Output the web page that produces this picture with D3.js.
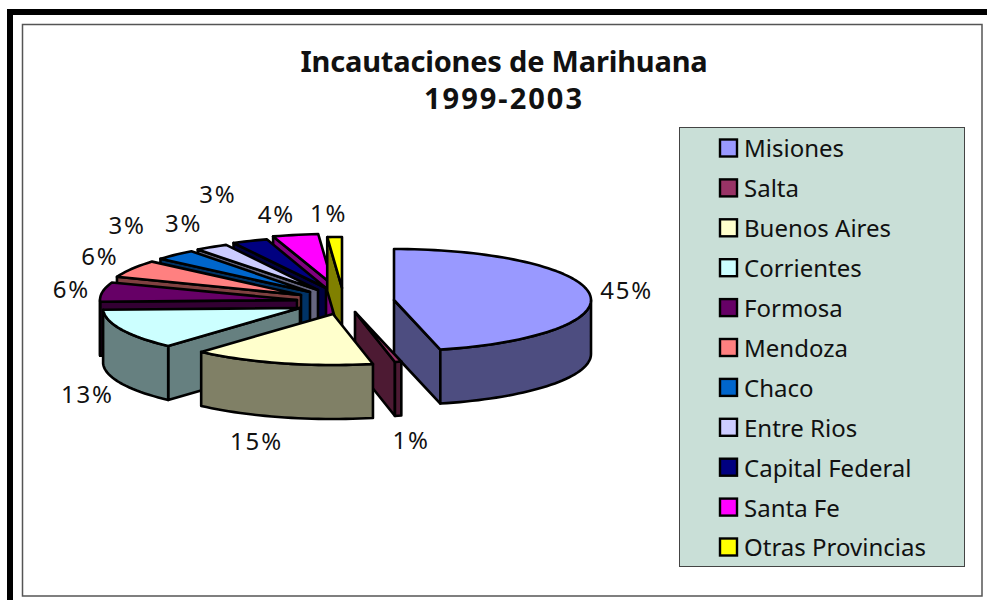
<!DOCTYPE html>
<html><head><meta charset="utf-8">
<script src="https://cdn.jsdelivr.net/npm/d3@7"></script>
<style>html,body{margin:0;padding:0;background:#fff}svg{display:block}text{font-family:"Noto Sans",Tahoma,sans-serif;fill:#111}</style>
</head><body><svg id="c" width="987" height="600"></svg>
<script>
// ---- data ----
const titleLines = ["Incautaciones de Marihuana", "1999-2003"];
const categories = ["Misiones","Salta","Buenos Aires","Corrientes","Formosa","Mendoza","Chaco","Entre Rios","Capital Federal","Santa Fe","Otras Provincias"];
const percents   = [45,1,15,13,6,6,3,3,3,4,1];
// ---- styles ----
const topColors  = ["#9999FF","#993366","#FFFFCC","#CCFFFF","#660066","#FF8080","#0066CC","#CCCCFF","#000080","#FF00FF","#FFFF00"];
// ---- layout: the 3-D look of the original ----
// degrees, projection distortion of each slice's two edges
const startAngleShift = [0,4.4,2.7,2.4,1.6,2.9,1,2,0.8,0.3,-0.7];
const endAngleShift   = [4.4,2.7,2.4,1.6,2,1.3,2.6,1,0.5,-0.7,0];
const sliceApexX = [394,355,333,300,297,301,310,318,326,333,342];       // exploded slice tips
const sliceApexY = [300,312,314,308,300,295,292,290,288,285,288];
const labelNudgeX = [37,13,-25,-34,-31,-32,-48,-28,-32,-19,-6];
const labelNudgeY = [-3,79,78,65,-2,-12,-29,-23,-46,-20,-23];
const RX = 197, RY = 51, DEPTH = 54;

const svg = d3.select("#c");
const rad = d => d*Math.PI/180;
const halfTone = c => { const k=d3.rgb(c); return d3.rgb(k.r/2,k.g/2,k.b/2).formatHex(); };

// frame
svg.append("path").attr("d","M10,600V12H987").attr("fill","none").attr("stroke","#000").attr("stroke-width",6);
svg.append("rect").attr("x",22.5).attr("y",24.5).attr("width",959.5).attr("height",571.5)
   .attr("fill","#fff").attr("stroke","#555").attr("stroke-width",1.5);

// title
svg.selectAll("text.title").data(titleLines).join("text").attr("class","title")
   .attr("x",504).attr("y",(d,i)=>71.5+i*37).attr("text-anchor","middle")
   .attr("font-size",29).attr("font-weight",700).attr("letter-spacing",(d,i)=>i?2:-0.2).attr("fill","#000").text(d=>d);

// pie
const arcs = d3.pie().sort(null)(percents);
const unit = d3.scaleLinear().domain([-1,1]);
const sx = unit.copy().range([-RX,RX]), sy = unit.copy().range([RY,-RY]);
const slices = arcs.map((a,i)=>{
  const a0 = a.startAngle + rad(startAngleShift[i]);
  const a1 = a.endAngle + rad(endAngleShift[i]);
  return {i,a0,a1,mid:(a0+a1)/2,ax:sliceApexX[i],ay:sliceApexY[i],color:topColors[i]};
});
const rim = (s,t,dy=0)=>[s.ax+sx(Math.sin(t)), s.ay+sy(Math.cos(t))+dy];
const samples = (a,b)=>{const n=Math.max(2,Math.ceil((b-a)/rad(2)));return d3.range(n+1).map(k=>a+(b-a)*k/n);};
const line = d3.line();
const poly = pts => line(pts)+"Z";

const order = slices.slice().sort((p,q)=>rim(p,p.mid)[1]-rim(q,q.mid)[1]);
const gp = svg.append("g").attr("stroke","#000").attr("stroke-width",2.6).attr("stroke-linejoin","round");
order.forEach(s=>{
  const wall = halfTone(s.color);
  const g = gp.append("g");
  const apex=[s.ax,s.ay], apexB=[s.ax,s.ay+DEPTH];
  // start wall faces viewer on the left half, end wall on the right half
  if (Math.sin(s.a0)<0) g.append("path").attr("fill",wall).attr("d",poly([apex,rim(s,s.a0),rim(s,s.a0,DEPTH),apexB]));
  if (Math.sin(s.a1)>0) g.append("path").attr("fill",wall).attr("d",poly([apex,rim(s,s.a1),rim(s,s.a1,DEPTH),apexB]));
  // outer rim, front half only
  const lo=Math.max(s.a0,Math.PI/2), hi=Math.min(s.a1,Math.PI*1.5);
  if (hi>lo){
    const ts=samples(lo,hi);
    g.append("path").attr("fill",wall)
     .attr("d",poly(ts.map(t=>rim(s,t)).concat(ts.slice().reverse().map(t=>rim(s,t,DEPTH)))));
  }
  // top face
  g.append("path").attr("fill",s.color)
   .attr("d",poly([apex].concat(samples(s.a0,s.a1).map(t=>rim(s,t)))));
});

// percent labels
svg.selectAll("text.pct").data(slices).join("text").attr("class","pct")
   .attr("text-anchor","middle").attr("dy","0.35em").attr("font-size",24).attr("letter-spacing",1.8)
   .attr("x",s=>rim(s,s.mid)[0]+labelNudgeX[s.i])
   .attr("y",s=>rim(s,s.mid)[1]+labelNudgeY[s.i])
   .text(s=>percents[s.i]+"%");

// legend
svg.append("rect").attr("x",679.5).attr("y",127.5).attr("width",285).attr("height",439)
   .attr("fill","#C9DFD7").attr("stroke","#444").attr("stroke-width",1);
const ly = d3.scalePoint().domain(categories).range([148,547]);
const row = svg.selectAll("g.lg").data(categories).join("g").attr("class","lg").attr("transform",d=>`translate(0,${ly(d)})`);
row.append("rect").attr("x",720).attr("y",-8.5).attr("width",17).attr("height",17)
   .attr("fill",(d,i)=>topColors[i]).attr("stroke","#000").attr("stroke-width",2.4);
row.append("text").attr("x",744).attr("y",1).attr("dy","0.35em").attr("font-size",24).text(d=>d);
</script></body></html>
